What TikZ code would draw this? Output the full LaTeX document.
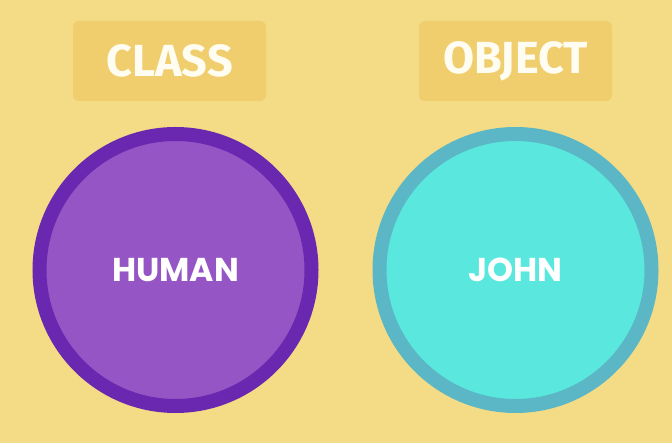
\documentclass[tikz,border=0pt]{standalone}
\usepackage{fontspec}
\usepackage{tikz}
\usetikzlibrary{positioning}
\newfontfamily\tagfont{Fira Sans}
\newfontfamily\circlefont{Poppins}
\definecolor{sand}{HTML}{F4DB86}
\definecolor{sanddark}{HTML}{F0CE6D}
\definecolor{grape}{HTML}{6A28B0}
\definecolor{lilac}{HTML}{9655C5}
\definecolor{seablue}{HTML}{5BB7C6}
\definecolor{aqua}{HTML}{5AE8DE}
\definecolor{cream}{HTML}{FFFDF2}

\tikzset{
  tagbox/.style={fill=sanddark,rounded corners=6pt,minimum width=193pt,minimum height=80pt,
    inner sep=0pt,text=cream,font=\tagfont\bfseries\fontsize{45}{45}\selectfont},
  ring/.style={circle,line width=14pt,minimum size=272pt,inner sep=0pt,text=white,
    font=\circlefont\bfseries\fontsize{33}{33}\selectfont}
}

\begin{document}
\begin{tikzpicture}[x=1pt,y=-1pt]
  \fill[sand] (0,0) rectangle (672,443);
  \useasboundingbox (0,0) rectangle (672,443);
  \node[tagbox] (classtag) at (169.5,61) {CLASS};
  \node[tagbox] (objecttag) at (515.5,61) {OBJECT};
  \node[ring,draw=grape,fill=lilac] (human) at (175.5,270) {HUMAN};
  \node[ring,draw=seablue,fill=aqua] (john) at (515.5,270) {JOHN};
\end{tikzpicture}
\end{document}
